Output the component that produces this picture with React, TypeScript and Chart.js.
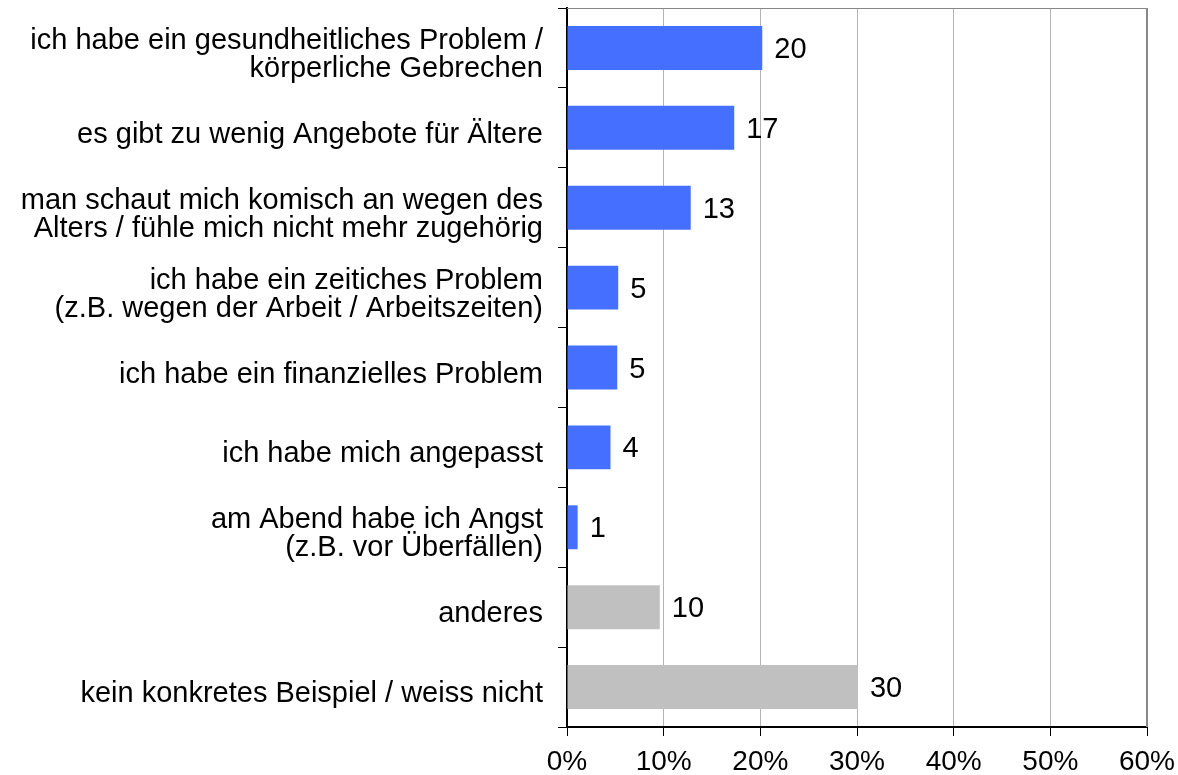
import React, { useEffect, useRef } from "react";
import { Chart, registerables } from "chart.js";

Chart.register(...registerables);

const categories: (string | string[])[] = [
  ["ich habe ein gesundheitliches Problem /", "körperliche Gebrechen"],
  "es gibt zu wenig Angebote für Ältere",
  ["man schaut mich komisch an wegen des", "Alters / fühle mich nicht mehr zugehörig"],
  ["ich habe ein zeitiches Problem", "(z.B. wegen der Arbeit / Arbeitszeiten)"],
  "ich habe ein finanzielles Problem",
  "ich habe mich angepasst",
  ["am Abend habe ich Angst", "(z.B. vor Überfällen)"],
  "anderes",
  "kein konkretes Beispiel / weiss nicht",
];

const values = [20.2, 17.3, 12.8, 5.3, 5.2, 4.5, 1.1, 9.6, 30.1];
const valueLabels = ["20", "17", "13", "5", "5", "4", "1", "10", "30"];
const barColors = [
  "#4570FF", "#4570FF", "#4570FF", "#4570FF", "#4570FF", "#4570FF", "#4570FF",
  "#C0C0C0", "#C0C0C0",
];
const xTicks = [0, 10, 20, 30, 40, 50, 60];

const FONT = "'Liberation Sans', Arial, sans-serif";

const valueLabelPlugin = {
  id: "valueLabels",
  afterDatasetsDraw(chart: any) {
    const ctx = chart.ctx;
    const meta = chart.getDatasetMeta(0);
    ctx.save();
    ctx.font = `29px ${FONT}`;
    ctx.fillStyle = "#000";
    ctx.textAlign = "left";
    ctx.textBaseline = "middle";
    meta.data.forEach((bar: any, i: number) => {
      ctx.fillText(valueLabels[i], bar.x + 12, bar.y + 2);
    });
    ctx.restore();
  },
};

const frameLinesPlugin = {
  id: "frameLines",
  afterDraw(chart: any) {
    const { ctx, chartArea } = chart;
    ctx.save();
    ctx.strokeStyle = "#888888";
    ctx.lineWidth = 1;
    ctx.beginPath();
    ctx.moveTo(chartArea.left, chartArea.top + 0.5);
    ctx.lineTo(chartArea.right, chartArea.top + 0.5);
    ctx.stroke();
    ctx.lineWidth = 2;
    ctx.beginPath();
    ctx.moveTo(chartArea.right, chartArea.top);
    ctx.lineTo(chartArea.right, chartArea.bottom);
    ctx.stroke();
    ctx.restore();
  },
};

export default function App() {
  const canvasRef = useRef<HTMLCanvasElement | null>(null);

  useEffect(() => {
    document.body.style.margin = "0";
    const canvas = canvasRef.current;
    if (!canvas) return;
    const chart = new Chart(canvas, {
      type: "bar",
      data: {
        labels: categories,
        datasets: [
          {
            data: values,
            backgroundColor: barColors,
            borderWidth: 0,
            barPercentage: 0.55,
            categoryPercentage: 1,
          },
        ],
      },
      options: {
        indexAxis: "y",
        animation: false,
        responsive: true,
        maintainAspectRatio: false,
        layout: { padding: { top: 8, right: 31, left: 0, bottom: 0 } },
        plugins: {
          legend: { display: false },
          tooltip: { enabled: false },
        },
        scales: {
          x: {
            min: 0,
            max: 60,
            afterBuildTicks(scale: any) {
              scale.ticks = xTicks.map((v) => ({ value: v }));
            },
            afterFit(scale: any) {
              scale.height = 48;
              scale.paddingLeft = 0;
              scale.paddingRight = 0;
            },
            ticks: {
              callback: (v: any) => `${v}%`,
              color: "#000",
              font: { family: FONT, size: 28 },
              padding: 9,
              maxRotation: 0,
            },
            grid: {
              color: "#b4b4b4",
              tickColor: "#000",
              tickLength: 9,
              lineWidth: 1,
            },
            border: { color: "#000", width: 2 },
          },
          y: {
            offset: true,
            afterFit(scale: any) {
              scale.width = 567;
              scale.paddingTop = 0;
              scale.paddingBottom = 0;
            },
            ticks: {
              color: "#000",
              font: { family: FONT, size: 29, lineHeight: 0.97 },
              padding: 15,
              labelOffset: 7,
              crossAlign: "near",
            },
            grid: {
              offset: true,
              drawOnChartArea: false,
              tickColor: "#000",
              tickLength: 9,
            },
            border: { color: "#000", width: 2 },
          },
        },
      },
      plugins: [valueLabelPlugin, frameLinesPlugin],
    });
    return () => chart.destroy();
  }, []);

  return (
    <div style={{ position: "relative", width: 1178, height: 775 }}>
      <canvas ref={canvasRef} />
    </div>
  );
}
